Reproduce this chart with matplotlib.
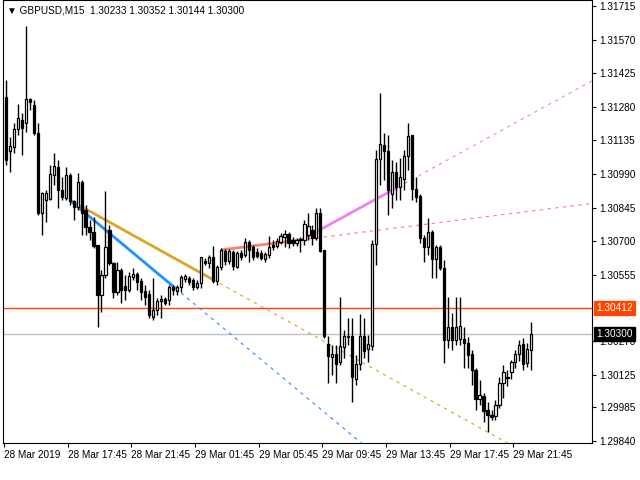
import matplotlib
matplotlib.use("Agg")
import matplotlib.pyplot as plt
import numpy as np

plt.rcParams['font.family'] = ['Liberation Sans', 'DejaVu Sans']

# OHLC in units of 1e-5 (price*1e5)
opens = [131323,131090,131107,131184,131223,131210,131314,131288,131167,130822,130878,130882,130986,131021,130921,130887,130986,130874,130848,130956,
 130835,130762,130740,130684,130468,130555,130749,130606,130481,130576,130507,130490,130546,130559,130529,130486,130473,130374,130404,130443,
 130451,130447,130503,130486,130503,130537,130542,130533,130503,130520,130615,130606,130632,130529,130589,130658,130615,130654,130589,130650,
 130641,130697,130675,130654,130650,130624,130641,130684,130680,130697,130719,130731,130706,130693,130706,130706,130727,130749,130714,130822,
 130663,130257,130201,130214,130179,130244,130287,130291,130106,130171,130291,130235,130248,130688,131055,131115,131090,130904,130999,130934,
 130969,131068,131159,130926,130896,130714,130675,130740,130624,130675,130585,130274,130330,130274,130279,130279,130261,130214,130145,130020,
 130033,129972,129951,129946,129994,130089,130110,130136,130179,130214,130257,130175,130233]
highs = [131396,131150,131210,131292,131253,131629,131318,131310,131210,130913,130921,131029,131081,131051,130977,131021,130995,130878,130995,130964,
 130857,130792,130805,130684,130576,130917,130770,130611,130611,130585,130555,130568,130585,130568,130542,130512,130490,130542,130455,130468,
 130460,130512,130512,130512,130555,130559,130550,130542,130533,130632,130628,130641,130680,130598,130671,130667,130667,130663,130658,130663,
 130714,130706,130684,130671,130663,130654,130723,130706,130714,130736,130749,130740,130719,130714,130719,130792,130822,130770,130844,130844,
 130663,130291,130253,130253,130460,130317,130369,130369,130210,130386,130369,130296,130706,131094,131340,131167,131159,131051,131042,131059,
 131094,131210,131159,130977,130904,130727,130801,130749,130684,130684,130619,130460,130391,130460,130460,130330,130287,130231,130153,130102,
 130046,130007,129972,130015,130115,130166,130145,130188,130231,130274,130283,130261,130352]
lows = [131029,130999,131081,131159,131072,131172,131266,131159,130813,130727,130783,130878,130943,130844,130878,130878,130857,130792,130835,130727,
 130727,130706,130671,130330,130395,130542,130598,130455,130468,130434,130447,130481,130533,130490,130447,130425,130369,130360,130382,130369,
 130425,130425,130468,130468,130481,130524,130512,130490,130494,130499,130598,130585,130520,130512,130576,130598,130602,130576,130585,130619,
 130632,130611,130619,130628,130619,130611,130628,130663,130671,130688,130675,130671,130680,130680,130654,130684,130706,130684,130706,130654,
 130283,130089,130123,130089,130166,130197,130253,130007,130080,130145,130197,130179,130231,130598,130943,130964,130813,130844,130878,130878,
 130921,131008,130878,130870,130693,130611,130641,130542,130542,130576,130175,130240,130231,130253,130253,130153,130153,130080,129972,129994,
 129920,129877,129929,129929,129981,130024,130076,130106,130153,130184,130145,130158,130144]
closes = [131051,131111,131184,131232,131189,131314,131301,131167,130822,130908,130908,130990,131025,130921,130891,130986,130874,130848,130956,130822,
 130762,130740,130680,130468,130555,130675,130606,130481,130576,130490,130490,130550,130559,130524,130481,130460,130382,130404,130443,130451,
 130434,130503,130490,130503,130546,130550,130524,130503,130520,130632,130606,130632,130529,130589,130663,130615,130658,130594,130650,130632,
 130697,130663,130632,130637,130628,130645,130675,130675,130701,130723,130731,130693,130693,130706,130710,130775,130766,130714,130822,130658,
 130291,130205,130214,130171,130248,130291,130291,130115,130171,130291,130227,130257,130688,131055,131120,131090,130921,130999,130934,130977,
 131068,131154,130926,130891,130714,130675,130740,130624,130675,130585,130274,130330,130274,130330,130335,130261,130210,130145,130020,130037,
 129968,129951,129942,129994,130089,130136,130115,130179,130214,130253,130171,130235,130300]

ytick_vals = [1.29840,1.29985,1.30125,1.30270,1.30555,1.30700,1.30845,1.30990,1.31135,1.31280,1.31425,1.31570,1.31715]
xtick_labels = ["28 Mar 2019","28 Mar 17:45","28 Mar 21:45","29 Mar 01:45","29 Mar 05:45",
                "29 Mar 09:45","29 Mar 13:45","29 Mar 17:45","29 Mar 21:45"]
header = "GBPUSD,M15  1.30233 1.30352 1.30144 1.30300"
bid_level = 1.30300
red_level = 1.30412
# trend lines: (i0, p0, i1, p1, color)
trends = [(16, 1.30878, 52, 1.30535, "#DAA520"),
          (16, 1.30878, 42.5, 1.30499, "#1E90FF"),
          (54, 1.30663, 74, 1.30706, "#FA8072"),
          (74.25, 1.30706, 98.5, 1.30934, "#EE82EE")]

o = np.array(opens)/1e5; h = np.array(highs)/1e5; l = np.array(lows)/1e5; c = np.array(closes)/1e5
idx = np.arange(len(o))

fig = plt.figure(figsize=(6.4,4.8), dpi=100)
ax = fig.add_axes([3/640, 37/480, 589/640, 443/480])
XL = (-0.75, 147.25); YL = (1.29830, 1.31741)
ax.set_xlim(*XL); ax.set_ylim(*YL)

ax.axhline(bid_level, color="#C0C0C0", lw=1, zorder=1)
ax.axhline(red_level, color="#FF4500", lw=1, zorder=1)

for i0,p0,i1,p1,col in trends:
    ax.plot([i0,i1],[p0,p1], color=col, lw=2, zorder=3, solid_capstyle="butt")
    s = (p1-p0)/(i1-i0)
    xe = XL[1]
    ax.plot([i1,xe],[p1,p1+s*(xe-i1)], color=col, lw=0.8, ls=(0,(3,4)), zorder=3)

ax.vlines(idx, l, h, color="black", lw=1, zorder=4)
bot = np.minimum(o,c); ht = np.maximum(np.abs(c-o), 0.000008)
fc = ["white" if cc >= oo else "black" for oo,cc in zip(o,c)]
ax.bar(idx, ht, bottom=bot, width=0.55, color=fc, edgecolor="black", linewidth=0.9, zorder=5)

fs = 7.2
ax.yaxis.tick_right()
ax.set_yticks(ytick_vals)
ax.set_yticklabels([f"{v:.5f}" for v in ytick_vals], fontsize=fs)
ax.set_xticks([-0.5+16*k for k in range(9)])
ax.set_xticklabels(xtick_labels, fontsize=fs, ha="left")
ax.tick_params(direction="out", length=3, width=0.8, pad=2)
for sp in ax.spines.values():
    sp.set_linewidth(0.8)

ax.text(148.3, red_level, f"{red_level:.5f}", fontsize=fs, color="white", va="center", ha="left",
        bbox=dict(boxstyle="square,pad=0.2", fc="#FF4500", ec="#FF4500"), clip_on=False, zorder=10)
ax.text(148.3, bid_level, f"{bid_level:.5f}", fontsize=fs, color="white", va="center", ha="left",
        bbox=dict(boxstyle="square,pad=0.2", fc="black", ec="black"), clip_on=False, zorder=10)
ax.text(0.006, 0.988, "▼ " + header, transform=ax.transAxes, fontsize=fs, va="top", ha="left", zorder=10,
        family=['Liberation Sans', 'DejaVu Sans'])

fig.savefig("out.png", dpi=100)
